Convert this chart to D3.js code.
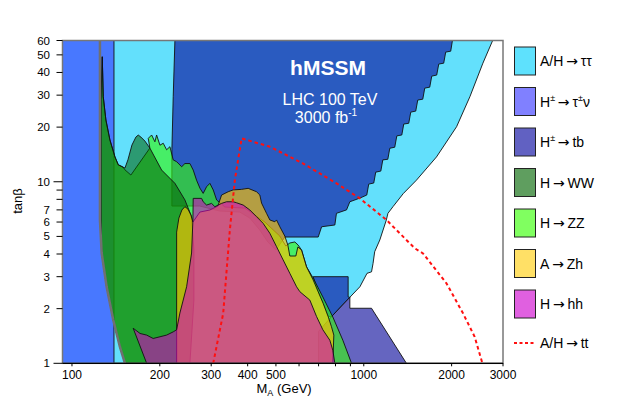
<!DOCTYPE html>
<html>
<head>
<meta charset="utf-8">
<script src="https://cdn.jsdelivr.net/npm/d3@7"></script>
<style>
  body { margin: 0; background: #fff; }
  text { font-family: 'Liberation Sans', Arial, Helvetica, sans-serif; }
</style>
</head>
<body>
<div id="app"></div>
<script>
// axis ticks
const mATicks = [100, 200, 300, 400, 500, 1000, 2000, 3000];
const mAMinorTicks = [600, 700, 800, 900];
const tanbTicks = [1, 2, 3, 4, 5, 6, 7, 10, 20, 30, 40, 50, 60];
const tanbMinorTicks = [8, 9];

// regions as [mA (GeV), tanb] outlines
const hcTauNuRegion = [[90, 1], [90, 60], [139.3, 60], [139.3, 1]];
const ttExclRegion = [[139.3, 1], [139.3, 60], [2765, 60], [2560, 45], [2310, 29.4], [2080, 20.1], [1775, 13.7],
  [1515, 10.2], [1365, 8.6], [1260, 7.3], [1210, 6.7], [1195, 6.16], [1135, 4.78], [1090, 4.12], [1076, 3.55],
  [1063, 3.19], [1026, 3.13], [970, 2.64], [896, 2.31], [775, 1.8], [707, 1]];
const ttDiscRegion = [[225.3, 60], [2013, 60], [1986, 52.4], [1909, 51.8], [1879, 45.0], [1807, 44.5], [1778, 38.7],
  [1710, 38.2], [1683, 33.2], [1618, 32.8], [1593, 28.5], [1531, 28.2], [1507, 24.5], [1449, 24.2], [1426, 21.0],
  [1371, 20.8], [1350, 18.1], [1298, 17.9], [1277, 15.5], [1228, 15.3], [1209, 13.3], [1162, 13.2], [1144, 11.45],
  [1099, 11.3], [1082, 9.84], [1040, 9.71], [1024, 8.45], [970, 8.13], [896, 7.76], [873, 7.0], [806, 6.7],
  [796, 5.78], [717, 5.65], [698, 4.96], [536, 4.96], [528, 4.78], [500, 4.21], [469, 4.66], [440, 5.43],
  [407, 6.31], [376, 6.81], [321, 6.9], [274, 7.35], [220, 7.35], [220, 15.0], [222.3, 29.4]];
const ttDiscLowRegion = [[670.6, 3.0], [884, 3.0], [884, 2.32], [896, 2.31], [775, 1.806], [754.9, 1.81],
  [725.7, 2.14], [697.7, 2.48]];
const hcTbRegion = [[896, 2.31], [896, 2.01], [1063, 2.01], [1400, 1], [700, 1], [700, 1.5], [775, 1.806]];
const zzRegion = [[127, 48.8], [128, 29.4], [130.7, 21.9], [134.9, 17.0], [140.4, 13.7], [144.1, 12.4], [149.5, 12.05],
  [151.9, 11.63], [159.2, 10.89], [171.1, 12.84], [184.9, 15.33], [182.6, 17.34], [187.5, 18.1], [192.4, 16.6],
  [195, 18.1], [200.2, 15.9], [205.5, 16.3], [211, 15.0], [216.6, 15.6], [222.3, 13.2], [228.4, 12.9], [237.6, 12.1],
  [243.8, 12.6], [253.6, 12.6], [260.3, 11.6], [267.3, 10.2], [274.4, 9.23], [281.6, 8.63], [289.3, 9.39],
  [296.9, 9.8], [304.8, 9.02], [313.1, 7.94], [334.2, 7.26], [391.3, 7.16], [458.1, 6.0], [515.7, 5.02],
  [540.6, 4.43], [558, 4.6], [580.5, 4.66], [595.7, 4.48], [612, 4.21], [636.5, 3.4], [670.6, 2.95], [724, 2.32],
  [783.3, 1.8], [847.8, 1.34], [908, 1], [151.9, 1], [146, 1.23], [138.5, 1.73], [131.5, 2.63], [126.4, 4.05],
  [125.7, 6.16], [125.7, 28.3]];
const wwRegion = [[127, 48.8], [128, 29.4], [130.7, 21.9], [134.9, 17.0], [140.4, 13.7], [144.1, 12.4], [149.5, 12.05],
  [151.9, 11.9], [155.5, 13.2], [160.5, 15.93], [165.6, 17.63], [168.7, 18.08], [172.3, 17.63], [177.8, 16.76],
  [184.9, 15.33], [202.9, 11.6], [225.3, 9.8], [243.8, 7.94], [257, 6.42], [261.7, 4.21], [261.7, 2.23], [253.6, 1],
  [151.9, 1], [146, 1.23], [138.5, 1.73], [131.5, 2.63], [126.4, 4.05], [125.7, 6.16], [125.7, 28.3]];
const zhRegion = [[228.4, 1], [228.4, 5.28], [232.5, 6.31], [238.1, 6.99], [243.8, 7.29], [249.7, 7.07], [255.6, 6.56],
  [259.7, 6.0], [274.4, 6.81], [296.9, 6.99], [316.2, 7.35], [325.6, 8.45], [343, 8.81], [356.8, 9.02], [381.3, 9.08],
  [401.6, 9.2], [429.1, 8.81], [440.4, 8.45], [446.4, 7.63], [464.3, 6.7], [476.6, 6.16], [495.7, 6.02], [502.4, 6.16],
  [515.7, 5.65], [536.4, 5.02], [549.3, 4.48], [558, 3.9], [585.1, 3.9], [594.4, 4.37], [612, 4.21], [636.5, 3.4],
  [670.6, 2.88], [697.7, 2.48], [725.7, 2.14], [754.9, 1.81], [775, 1.59], [789.6, 1.43], [783.3, 1]];
const hhRegion = [[180.3, 1], [162.1, 1.56], [171.1, 1.46], [180.3, 1.43], [189.8, 1.37], [200.2, 1.40], [211, 1.43],
  [222.3, 1.49], [228.4, 1.53], [234.3, 1.89], [247.1, 2.64], [257, 4.05], [259.7, 6.16], [260.3, 8.1], [278.1, 8.1],
  [281.6, 7.76], [289.3, 7.44], [300.9, 7.6], [308.8, 7.29], [316.9, 7.44], [325.6, 7.6], [338.7, 7.76],
  [356.8, 7.76], [366.5, 7.66], [386.1, 7.44], [407, 6.99], [429.1, 6.42], [452, 5.9], [476.6, 5.2], [502.4, 4.39],
  [529.3, 3.71], [558, 3.13], [588.4, 2.64], [603.9, 2.48], [653.4, 2.23], [688.9, 1.81], [724, 1.53],
  [765.1, 1.34], [783.3, 1.18], [795.9, 1]];
const mhLimitLine = [[124.7, 60], [124.7, 6.16], [126.4, 4.05], [131.5, 2.63], [138.5, 1.73], [146, 1.23], [151.9, 1]];
const ttLine = [[304.8, 1], [329.8, 1.885], [347.6, 5.43], [361.6, 10.24], [381.3, 17.34], [476.6, 15.6],
  [619.7, 12.6], [806.4, 9.8], [969.5, 8.1], [1196, 6.16], [1495, 4.3], [1596, 4.03], [1920, 2.76],
  [2188, 1.885], [2399, 1.4], [2550, 1]];

// legend: [before arrow, after arrow]
const legendLabels = [['A/H', 'ττ'], ['H±', 'τ±ν'], ['H±', 'tb'], ['H', 'WW'], ['H', 'ZZ'], ['A', 'Zh'], ['H', 'hh'], ['A/H', 'tt']];

(() => {
  const width = 630;
  const height = 404;
  const plot = { left: 62.5, right: 503, top: 40.5, bottom: 363.3 };

  const x = d3.scaleLog().domain([92.8, 3000]).range([plot.left, plot.right]);
  const y = d3.scaleLog().domain([1, 60]).range([plot.bottom, plot.top]);

  const svg = d3.select('#app')
    .append('svg')
    .attr('width', width)
    .attr('height', height);

  svg.append('defs')
    .append('clipPath')
    .attr('id', 'plot-clip')
    .append('rect')
    .attr('x', plot.left)
    .attr('y', plot.top)
    .attr('width', plot.right - plot.left)
    .attr('height', plot.bottom - plot.top);

  const line = d3.line().x(d => x(d[0])).y(d => y(d[1]));
  const area = pts => `${line(pts)}Z`;

  const g = svg.append('g').attr('clip-path', 'url(#plot-clip)');

  // layers, bottom to top; the channel fills are see-through like the original
  const layers = [
    { pts: hcTauNuRegion, fill: '#4878ff', op: 1, stroke: 'none' },
    { pts: ttExclRegion, fill: '#63e0fc', op: 1, stroke: '#111' },
    { pts: ttDiscRegion, fill: '#2a5bc0', op: 1, stroke: '#111' },
    { pts: ttDiscLowRegion, fill: '#2a5bc0', op: 1, stroke: '#111' },
    { pts: hcTbRegion, fill: '#6565c0', op: 1, stroke: '#111' },
    { pts: zzRegion, fill: 'rgb(57,246,19)', op: 0.64, stroke: '#111' },
    { pts: wwRegion, fill: 'rgb(0,96,0)', op: 0.55, stroke: '#111' },
    { pts: zhRegion, fill: 'rgb(255,195,0)', op: 0.65, stroke: '#111' },
    { pts: hhRegion, fill: 'rgb(212,0,196)', op: 0.58, stroke: '#111' },
  ];

  g.selectAll('path.region')
    .data(layers)
    .enter()
    .append('path')
    .attr('class', 'region')
    .attr('d', d => area(d.pts))
    .style('fill', d => d.fill)
    .style('fill-opacity', d => d.op)
    .style('stroke', d => d.stroke)
    .style('stroke-width', 0.9)
    .style('stroke-linejoin', 'round');

  // light higgs mass limit
  g.append('path')
    .attr('d', line(mhLimitLine))
    .style('fill', 'none')
    .style('stroke', '#707070')
    .style('stroke-width', 2.5);

  // A/H -> tt reach
  g.append('path')
    .attr('d', line(ttLine))
    .style('fill', 'none')
    .style('stroke', '#ff1010')
    .style('stroke-width', 2)
    .style('stroke-dasharray', '3.5,3');

  // frame
  svg.append('rect')
    .attr('x', plot.left)
    .attr('y', plot.top)
    .attr('width', plot.right - plot.left)
    .attr('height', plot.bottom - plot.top)
    .style('fill', 'none')
    .style('stroke', '#777')
    .style('stroke-width', 1.5);

  svg.append('line')
    .attr('x1', plot.left).attr('x2', plot.right)
    .attr('y1', plot.bottom).attr('y2', plot.bottom)
    .style('stroke', '#000')
    .style('stroke-width', 1.3);

  // y ticks
  svg.selectAll('line.ytick')
    .data(tanbTicks.concat(tanbMinorTicks))
    .enter()
    .append('line')
    .attr('class', 'ytick')
    .attr('x1', d => plot.left - (d === 1 || d === 10 ? 9 : 6))
    .attr('x2', plot.left)
    .attr('y1', d => y(d))
    .attr('y2', d => y(d))
    .style('stroke', '#000')
    .style('stroke-width', 1);

  svg.selectAll('text.ylab')
    .data(tanbTicks)
    .enter()
    .append('text')
    .attr('class', 'ylab')
    .text(d => d)
    .attr('x', 50)
    .attr('y', d => y(d))
    .attr('dy', '0.35em')
    .attr('font-size', '11.5px')
    .style('text-anchor', 'end');

  // x ticks
  svg.selectAll('line.xtick')
    .data(mATicks.concat(mAMinorTicks))
    .enter()
    .append('line')
    .attr('class', 'xtick')
    .attr('x1', d => x(d))
    .attr('x2', d => x(d))
    .attr('y1', plot.bottom)
    .attr('y2', plot.bottom + 3)
    .style('stroke', '#000')
    .style('stroke-width', 1);

  svg.selectAll('text.xlab')
    .data(mATicks)
    .enter()
    .append('text')
    .attr('class', 'xlab')
    .text(d => d)
    .attr('x', d => x(d))
    .attr('y', 378.5)
    .attr('font-size', '12px')
    .style('text-anchor', 'middle');

  // axis titles
  const xTitle = svg.append('text')
    .attr('x', 256.5)
    .attr('y', 393)
    .attr('font-size', '13px');
  xTitle.append('tspan').text('M');
  xTitle.append('tspan').text('A').attr('font-size', '9px').attr('dy', 3);
  xTitle.append('tspan').text(' (GeV)').attr('dy', -3);

  svg.append('text')
    .text('tanβ')
    .attr('transform', 'translate(22,201) rotate(-90)')
    .attr('font-size', '13px')
    .style('text-anchor', 'middle');

  // labels in plot
  svg.append('text')
    .text('hMSSM')
    .attr('x', 328)
    .attr('y', 75)
    .attr('font-size', '21px')
    .attr('font-weight', 'bold')
    .style('fill', '#fff')
    .style('text-anchor', 'middle');

  svg.append('text')
    .text('LHC 100 TeV')
    .attr('x', 330)
    .attr('y', 105)
    .attr('font-size', '16px')
    .style('fill', '#fff')
    .style('text-anchor', 'middle');

  const lumi = svg.append('text')
    .attr('x', 326)
    .attr('y', 123)
    .attr('font-size', '16px')
    .style('fill', '#fff')
    .style('text-anchor', 'middle');
  lumi.append('tspan').text('3000 fb');
  lumi.append('tspan').text('-1').attr('font-size', '10px').attr('dy', -7);

  // legend
  const legendFill = ['#5ee1fd', '#8080ff', '#6161c2', '#5f9e5f', '#80ff60', '#ffe066', '#e060e0'];
  const rowY = i => 61 + (i * 40.5);

  svg.selectAll('rect.lbox')
    .data(legendFill)
    .enter()
    .append('rect')
    .attr('class', 'lbox')
    .attr('x', 514.5)
    .attr('y', (d, i) => rowY(i) - 14)
    .attr('width', 21)
    .attr('height', 28)
    .style('fill', d => d)
    .style('stroke', '#222')
    .style('stroke-width', 1);

  svg.append('line')
    .attr('x1', 514)
    .attr('x2', 536)
    .attr('y1', 343)
    .attr('y2', 343)
    .style('stroke', '#ff1010')
    .style('stroke-width', 2)
    .style('stroke-dasharray', '3,2.5');

  // split a label into plain and raised pieces, every "±" raised
  const pieces = s => s.split(/(±)/).filter(p => p).map(p => ({ text: p, sup: p === '±' }));

  svg.selectAll('text.ltext')
    .data(legendLabels)
    .enter()
    .append('text')
    .attr('class', 'ltext')
    .attr('x', 540)
    .attr('y', (d, i) => (i < 7 ? rowY(i) : 343) + 5)
    .attr('font-size', '14px')
    .each(function (d) {
      const t = d3.select(this);
      const all = pieces(d[0])
        .concat([{ text: '\u2009\u2192\u2009', arrow: true }])
        .concat(pieces(d[1]));
      let raised = false;
      all.forEach((p) => {
        const span = t.append('tspan').text(p.text);
        if (p.sup && !raised) { span.attr('dy', -6); raised = true; }
        if (!p.sup && raised) { span.attr('dy', 6); raised = false; }
        if (p.sup) span.attr('font-size', '9px');
        if (p.arrow) span.style('font-family', 'DejaVu Sans');
      });
    });
})();
</script>
</body>
</html>
